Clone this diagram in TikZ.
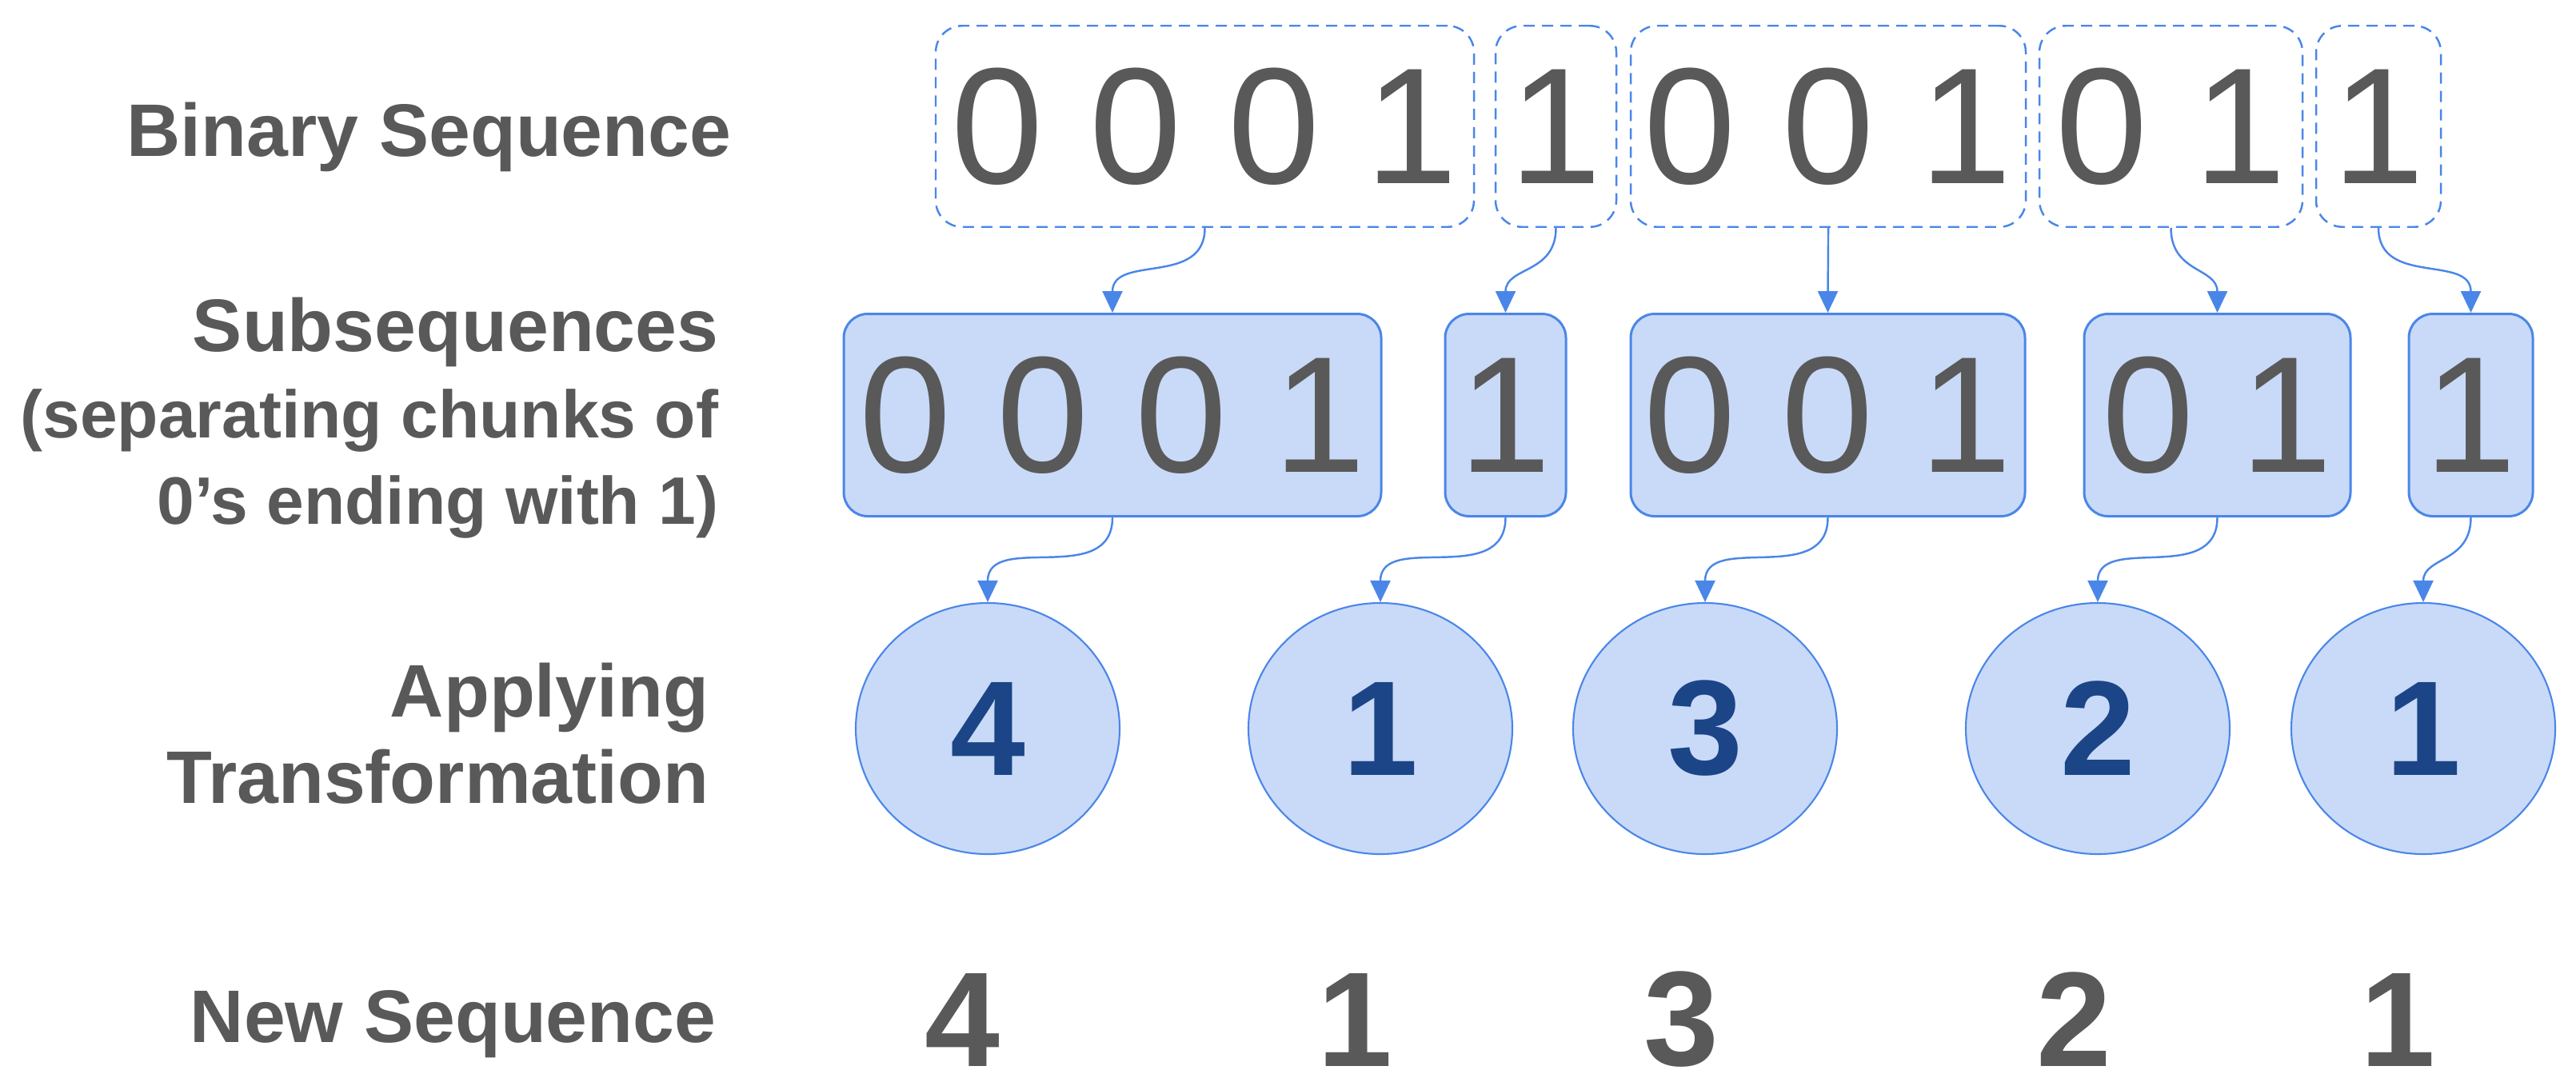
\documentclass[tikz,border=0pt]{standalone}
\usepackage{fontspec}
\setmainfont{Liberation Sans}
\usetikzlibrary{positioning,arrows.meta,shapes.geometric}
\definecolor{accent}{HTML}{4A86E8}
\definecolor{lblue}{HTML}{C9DAF8}
\definecolor{ink}{HTML}{595959}
\definecolor{navy}{HTML}{1C4587}
\tikzset{
  bits/.style={draw=accent, line width=0.7pt, dash pattern=on 0.14cm off 0.09cm,
               rounded corners=0.33cm, minimum height=2.515cm, inner sep=0.08cm,
               text=ink, font=\fontsize{58.9}{60}\selectfont},
  chunk/.style={draw=accent, line width=0.85pt, fill=lblue, rounded corners=0.3cm,
               minimum height=2.53cm, inner sep=0.08cm,
               text=ink, font=\fontsize{58.9}{60}\selectfont},
  count/.style={ellipse, draw=accent, line width=0.6pt, fill=lblue,
               minimum width=3.3cm, minimum height=3.14cm, inner sep=0pt,
               text=navy, font=\fontsize{48}{50}\selectfont\bfseries},
  result/.style={text=ink, inner sep=0pt, font=\fontsize{48}{50}\selectfont\bfseries},
  rowlbl/.style={align=right, text=ink, inner sep=0pt,
               font=\fontsize{26.5}{30.7}\selectfont\bfseries},
  arr/.style={-{Triangle[length=0.27cm, width=0.25cm]}, line width=0.7pt, draw=accent},
}

\begin{document}
\begin{tikzpicture}
  \useasboundingbox (0,0) rectangle (32.21,-13.62);

  % row labels
  \node[rowlbl, anchor=base east] (lbin) at (9.15,-1.955) {Binary Sequence};
  \node[rowlbl, anchor=north east] (lsub) at (8.99,-3.71)
    {Subsequences\\
     {\fontsize{23.9}{30}\selectfont (separating chunks of}\\
     {\fontsize{23.9}{30}\selectfont 0’s ending with 1)}};
  \node[rowlbl, anchor=north east] (lapp) at (8.87,-8.28) {Applying\\ Transformation};
  \node[rowlbl, anchor=base east] (lnew) at (8.96,-13.03) {New Sequence};

  % binary sequence
  \node[bits, minimum width=6.73cm] (b1) at (15.065,-1.58) {0 0 0 1};
  \node[bits, minimum width=1.51cm] (b2) at (19.455,-1.58) {1};
  \node[bits, minimum width=4.94cm] (b3) at (22.86,-1.58) {0 0 1};
  \node[bits, minimum width=3.29cm] (b4) at (27.145,-1.58) {0 1};
  \node[bits, minimum width=1.56cm] (b5) at (29.74,-1.58) {1};

  % subsequences
  \node[chunk, minimum width=6.72cm] (s1) at (13.91,-5.19) {0 0 0 1};
  \node[chunk, minimum width=1.51cm] (s2) at (18.825,-5.19) {1};
  \node[chunk, minimum width=4.93cm] (s3) at (22.855,-5.19) {0 0 1};
  \node[chunk, minimum width=3.33cm] (s4) at (27.725,-5.19) {0 1};
  \node[chunk, minimum width=1.55cm] (s5) at (30.895,-5.19) {1};

  % transformation
  \node[count] (c1) at (12.35,-9.11) {4};
  \node[count] (c2) at (17.26,-9.11) {1};
  \node[count] (c3) at (21.32,-9.11) {3};
  \node[count] (c4) at (26.23,-9.11) {2};
  \node[count] (c5) at (30.30,-9.11) {1};

  % new sequence
  \node[result] (n1) at (12.03,-12.75) {4};
  \node[result] (n2) at (16.94,-12.75) {1};
  \node[result] (n3) at (21.02,-12.75) {3};
  \node[result] (n4) at (25.93,-12.75) {2};
  \node[result] (n5) at (29.98,-12.75) {1};

  \draw[arr] (b1.south) to[out=-90, in=90, looseness=1.2] (s1.north);
  \draw[arr] (b2.south) to[out=-90, in=90, looseness=1.2] (s2.north);
  \draw[arr] (b3.south) to[out=-90, in=90] (s3.north);
  \draw[arr] (b4.south) to[out=-90, in=90, looseness=1.2] (s4.north);
  \draw[arr] (b5.south) to[out=-90, in=90, looseness=1.2] (s5.north);

  \draw[arr] (s1.south) to[out=-90, in=90, looseness=1.2] (c1.north);
  \draw[arr] (s2.south) to[out=-90, in=90, looseness=1.2] (c2.north);
  \draw[arr] (s3.south) to[out=-90, in=90, looseness=1.2] (c3.north);
  \draw[arr] (s4.south) to[out=-90, in=90, looseness=1.2] (c4.north);
  \draw[arr] (s5.south) to[out=-90, in=90, looseness=1.2] (c5.north);
\end{tikzpicture}
\end{document}
